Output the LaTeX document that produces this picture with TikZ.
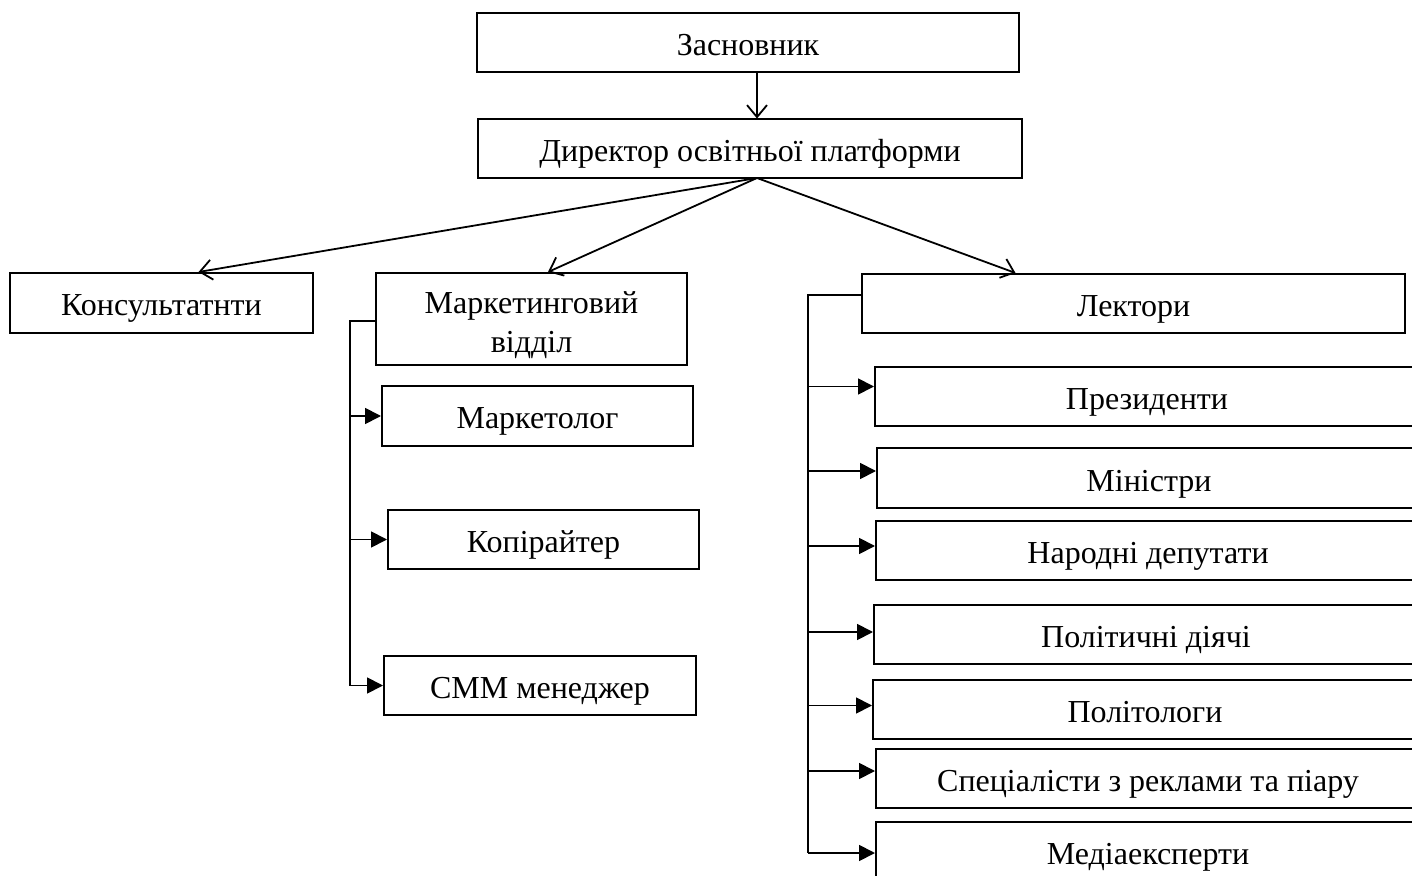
\documentclass[tikz,border=0pt]{standalone}
\usepackage{fontspec}
\setmainfont{Liberation Serif}
\usetikzlibrary{arrows.meta,positioning,calc}
\tikzset{
  box/.style={draw, line width=1pt, minimum height=29.5pt, inner sep=2pt,
              align=center, font=\fontsize{16}{19.5}\selectfont},
  one/.style={text height=13pt, text depth=0pt},
  fanarr/.style={-{Straight Barb[length=6pt,width=10pt]}, line width=0.9pt},
  subarr/.style={-{Triangle[length=8pt,width=8pt]}, line width=0.9pt},
  bus/.style={line width=0.9pt},
}

\begin{document}
\begin{tikzpicture}[x=0.5pt, y=-0.5pt]
  \useasboundingbox (0,0) rectangle (1412,876);

  \node[box, one, minimum width=271pt] (found) at (748,43) {Засновник};
  \node[box, one, minimum width=272pt] (dir) at (750,149) {Директор освітньої платформи};

  \node[box, one, minimum width=151.5pt, minimum height=30pt] (cons) at (161.5,303) {Консультатнти};
  \node[box, text height=33.5pt, text depth=0pt, minimum width=155.5pt, minimum height=46pt] (mkt) at (531.5,319) {Маркетинговий\\відділ};
  \node[box, one, minimum width=271.5pt] (lect) at (1133.5,303.5) {Лектори};

  \node[box, one, minimum width=155.5pt, minimum height=30pt] (mktlog) at (537.5,416) {Маркетолог};
  \node[box, one, minimum width=155.5pt] (copy) at (543.5,539.5) {Копірайтер};
  \node[box, one, minimum width=156pt] (smm) at (540,685.5) {СММ менеджер};

  \node[box, one, minimum width=272pt] (pres) at (1147,396.5) {Президенти};
  \node[box, one, minimum width=272pt] (min) at (1149,478) {Міністри};
  \node[box, one, minimum width=272pt] (nar) at (1148,550) {Народні депутати};
  \node[box, one, minimum width=272pt] (pol) at (1146,634) {Політичні діячі};
  \node[box, one, minimum width=272pt] (polit) at (1145,709.5) {Політологи};
  \node[box, one, minimum width=272pt] (spec) at (1148,778) {Спеціалісти з реклами та піару};
  \node[box, one, minimum width=272pt] (media) at (1148,851) {Медіаексперти};

  \coordinate (fan) at (757,178);
  \draw[fanarr] (fan |- found.south) -- (fan |- dir.north);
  \draw[fanarr] (fan) -- ($(cons.north)+(37,0)$);
  \draw[fanarr] (fan) -- ($(mkt.north)+(16.5,0)$);
  \draw[fanarr] (fan) -- ($(lect.north)+(-118,0)$);

  \coordinate (mbus) at (350,321);
  \draw[bus] (mkt.west |- mbus) -- (mbus) -- (mbus |- smm.west);
  \foreach \n in {mktlog,copy,smm}
    \draw[subarr] (mbus |- \n.west) -- (\n.west);

  \coordinate (lbus) at (808,295);
  \coordinate (lend) at (808,853);
  \draw[bus] (lect.west |- lbus) -- (lbus) -- (lend);
  \foreach \n/\d in {pres/-10,min/-7,nar/-4,pol/-2,polit/-4,spec/-7,media/2}{
    \path ($(\n.west)+(0,\d)$) coordinate (t);
    \draw[subarr] (lbus |- t) -- (t);
  }
\end{tikzpicture}
\end{document}
